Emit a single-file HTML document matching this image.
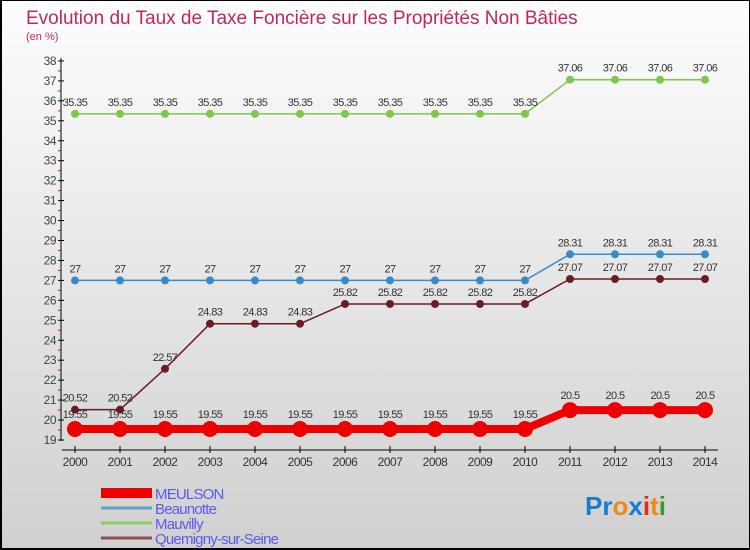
<!DOCTYPE html>
<html><head><meta charset="utf-8"><style>
body{margin:0}
#c{width:750px;height:550px;position:relative;box-sizing:border-box;border:1px solid #000;border-left:2px solid #000;border-bottom:2px solid #000;background:linear-gradient(#fdfdfd,#d0d0d0);font-family:"Liberation Sans",sans-serif;overflow:hidden}
</style></head><body>
<div id="c">
<svg id="s" width="750" height="550" style="position:absolute;left:-2px;top:-1px">
<text x="26" y="24" font-size="19" fill="#c0285a">Evolution du Taux de Taxe Foncière sur les Propriétés Non Bâties</text>
<text x="26" y="40" font-size="11" fill="#c0285a">(en %)</text>
<g id="g"></g>
<text x="585" y="515" font-size="26" font-family="Liberation Sans" font-weight="bold"><tspan fill="#1a7ad0">Pr</tspan><tspan fill="#f08a10">o</tspan><tspan fill="#1a7ad0">x</tspan><tspan fill="#e03010">i</tspan><tspan fill="#f08a10">t</tspan><tspan fill="#3a9a30">i</tspan></text>
</svg>
</div>
<script>
const years=[2000,2001,2002,2003,2004,2005,2006,2007,2008,2009,2010,2011,2012,2013,2014];
const meulson=[19.55,19.55,19.55,19.55,19.55,19.55,19.55,19.55,19.55,19.55,19.55,20.5,20.5,20.5,20.5];
const beaunotte=[27,27,27,27,27,27,27,27,27,27,27,28.31,28.31,28.31,28.31];
const mauvilly=[35.35,35.35,35.35,35.35,35.35,35.35,35.35,35.35,35.35,35.35,35.35,37.06,37.06,37.06,37.06];
const quemigny=[20.52,20.52,22.57,24.83,24.83,24.83,25.82,25.82,25.82,25.82,25.82,27.07,27.07,27.07,27.07];
const yTicks=[19,20,21,22,23,24,25,26,27,28,29,30,31,32,33,34,35,36,37,38];
const names=["MEULSON","Beaunotte","Mauvilly","Quemigny-sur-Seine"];
const X=i=>75+i*45, Y=v=>440-(v-19)*19.95;
const g=document.getElementById('g'),NS="http://www.w3.org/2000/svg";
function el(t,a,n){const e=document.createElementNS(NS,t);for(const k in a)e.setAttribute(k,a[k]);


g.appendChild(e);return e;}
el('line',{x1:61,y1:58,x2:61,y2:441,stroke:'#000'},'y-axis');
el('line',{x1:62,y1:450,x2:718,y2:450,stroke:'#000'},'x-axis');
yTicks.forEach(v=>{el('line',{x1:58,x2:64,y1:Y(v),y2:Y(v),stroke:'#000'},'y-tick');
if(v<38)el('line',{x1:58,x2:61,y1:Y(v+0.5),y2:Y(v+0.5),stroke:'#e00'},'y-minor-tick');
const t=el('text',{x:56,y:Y(v)+4,'font-size':12,fill:'#444','text-anchor':'end','letter-spacing':'-0.5'},'y-tick-label');t.textContent=v;});
years.forEach((y,i)=>{el('line',{x1:X(i),x2:X(i),y1:446,y2:453,stroke:'#000'},'x-tick');
const t=el('text',{x:X(i),y:466,'font-size':12,fill:'#333','text-anchor':'middle','letter-spacing':'-0.5'},'x-tick-label');t.textContent=y;});
function series(d,col,w,r,nm){
el('polyline',{points:d.map((v,i)=>X(i)+','+Y(v)).join(' '),fill:'none',stroke:col,'stroke-width':w},nm+'-line');
d.forEach((v,i)=>{el('circle',{cx:X(i),cy:Y(v),r:r,fill:col},nm+'-point');
const t=el('text',{x:X(i),y:Y(v)-8-(r>4?3:0),'font-size':11,fill:'#333','text-anchor':'middle','letter-spacing':'-0.6'},nm+'-value-label');t.textContent=v;});}
series(mauvilly,'#7cc84a',1.5,4,'mauvilly');
series(beaunotte,'#3a8ac8',1.5,4,'beaunotte');
series(quemigny,'#6a1c20',1.5,4,'quemigny');
series(meulson,'#ee0000',8,8,'meulson');
const cols=['#ee0000','#6aa0c8','#8ad060','#8a5050'],ws=[10,3,3,3];
names.forEach((n,i)=>{const y=493+i*15;
el('line',{x1:101,x2:152,y1:y,y2:y,stroke:cols[i],'stroke-width':ws[i]},'legend-swatch');
const t=el('text',{x:155,y:y+6,'font-size':15,fill:'#5a5af0','letter-spacing':'-0.8'},'legend-entry');t.textContent=n;});
</script>
</body></html>
